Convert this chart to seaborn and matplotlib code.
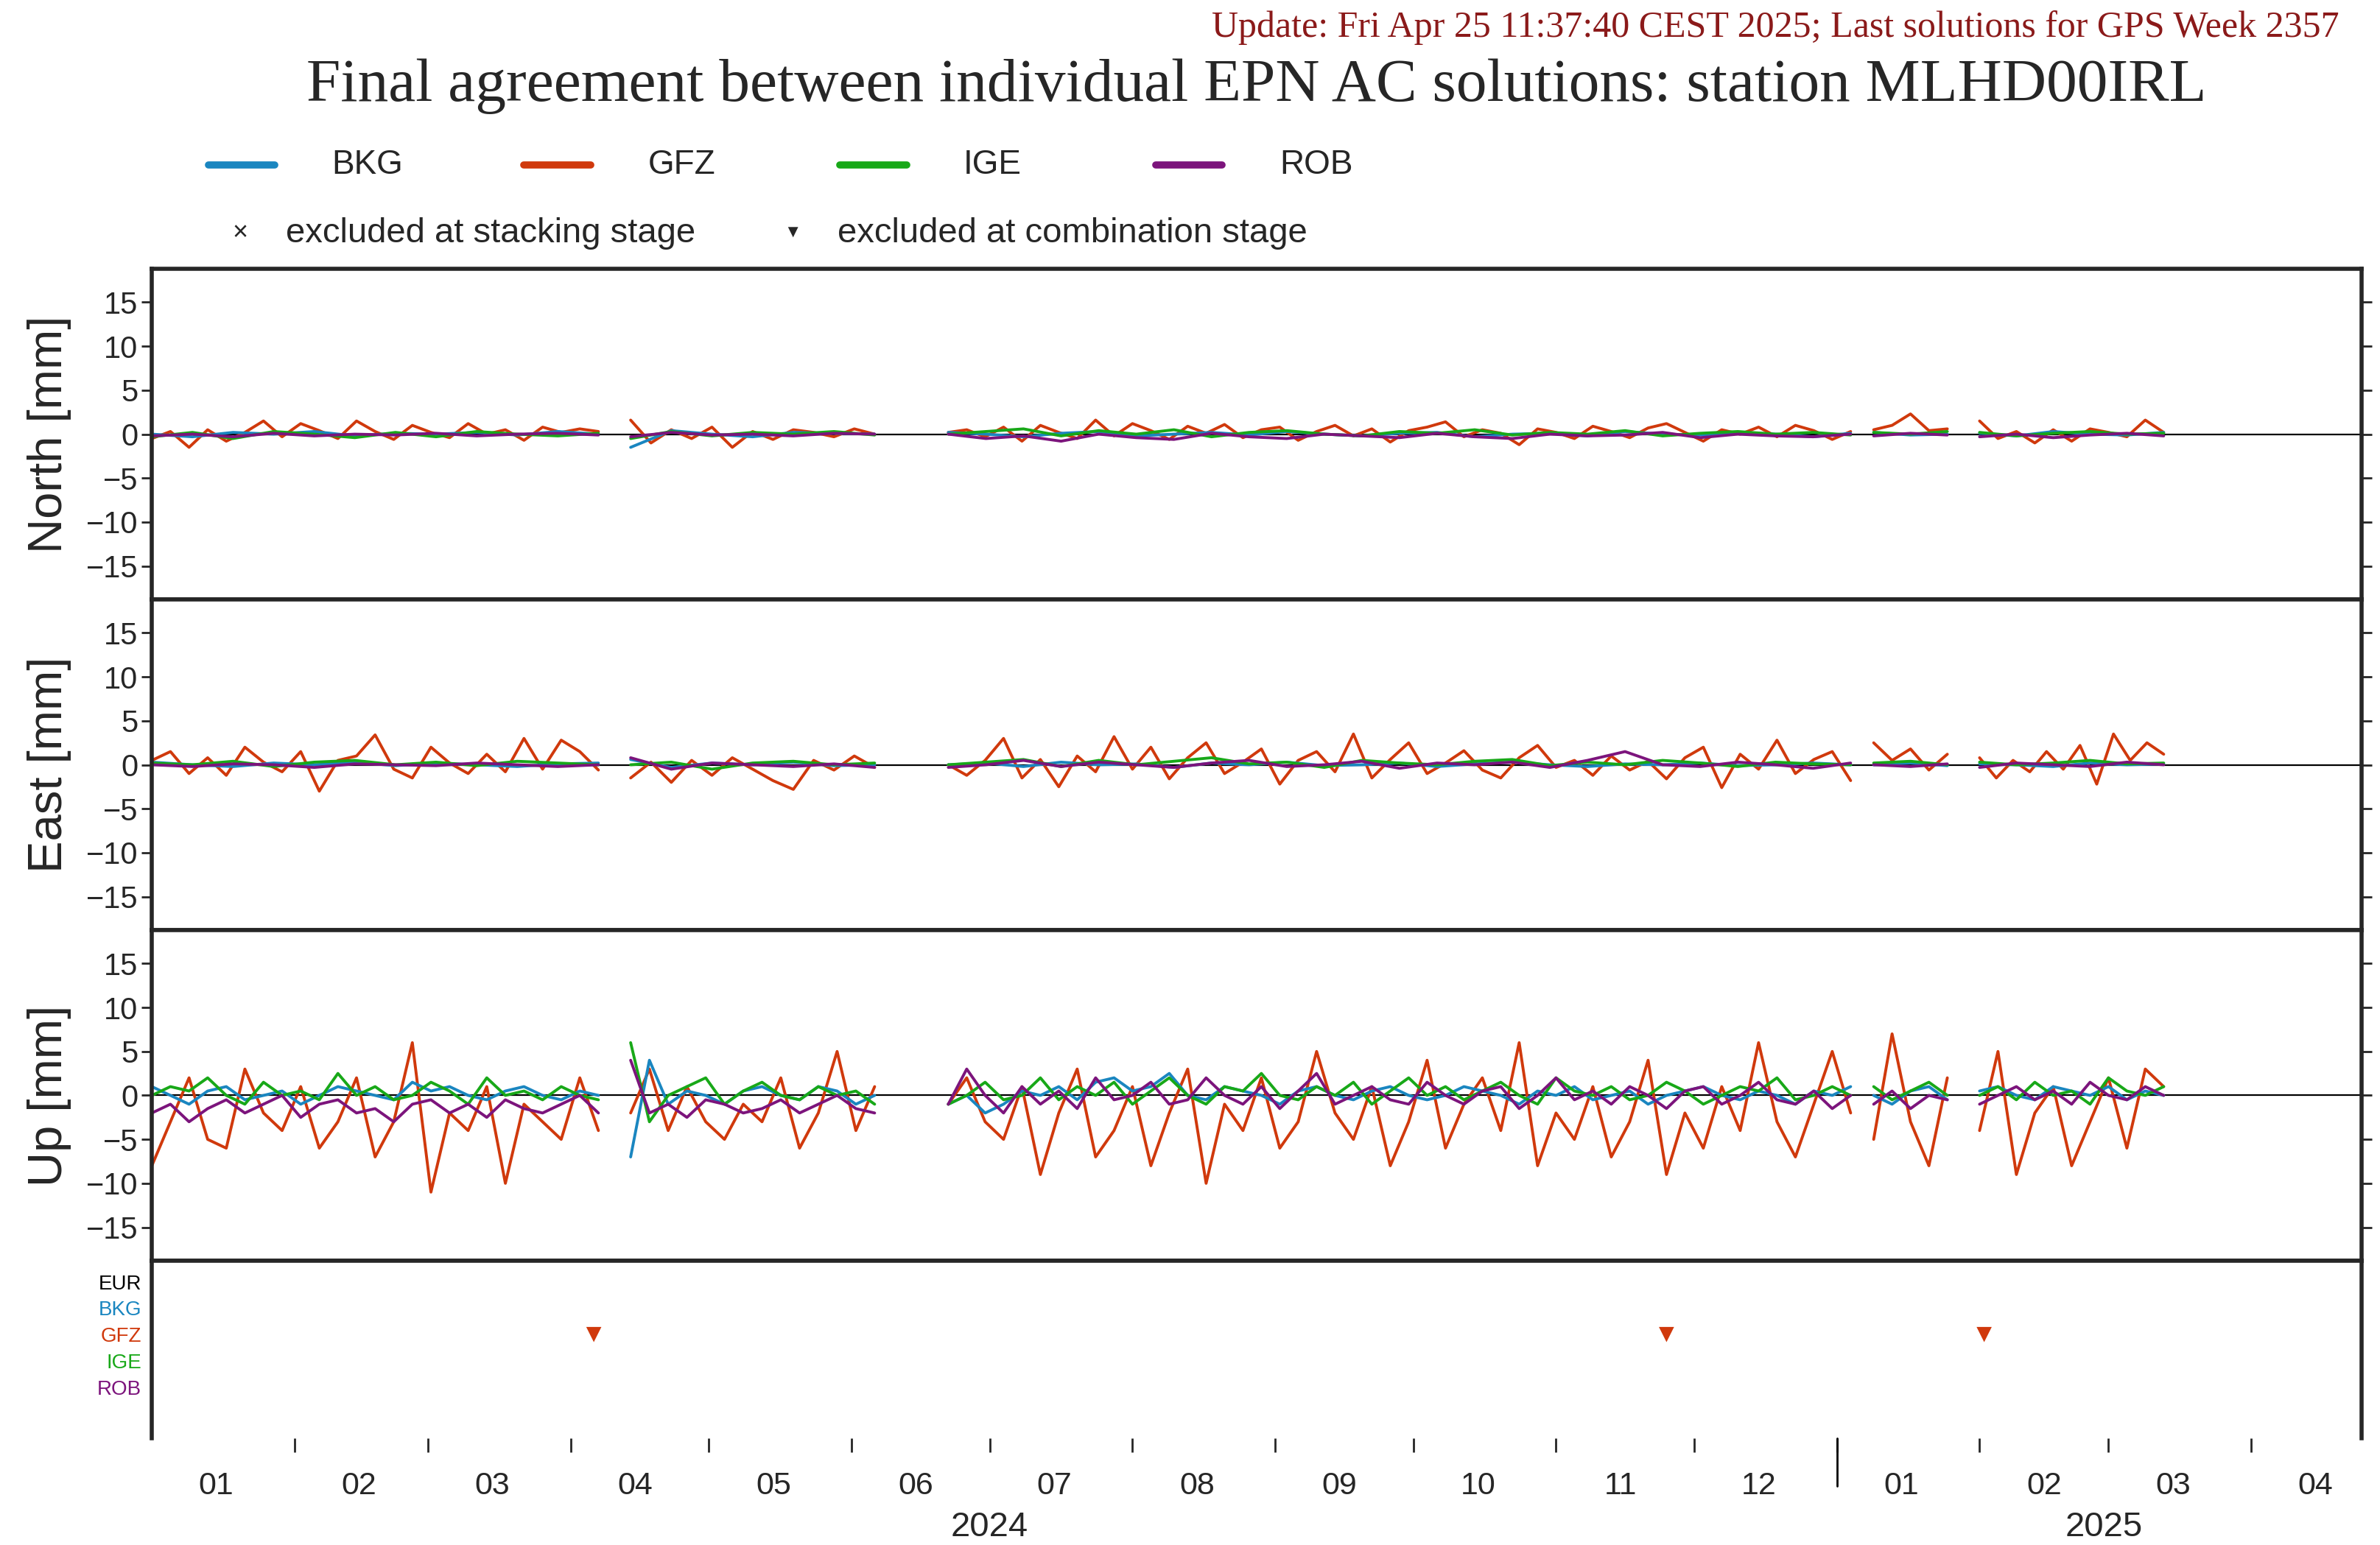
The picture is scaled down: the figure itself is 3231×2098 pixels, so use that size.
import numpy as np
import pandas as pd
import matplotlib
matplotlib.use("Agg")
import matplotlib.pyplot as plt
import matplotlib.dates as mdates
from matplotlib.lines import Line2D
import seaborn as sb

sb.set_style("ticks")
plt.rcParams['font.family'] = ['Liberation Sans', 'DejaVu Sans']

# segment bounds (data gaps between them)
seg_bounds = [("2024-01-01", "2024-04-07"), ("2024-04-14", "2024-06-06"),
              ("2024-06-22", "2025-01-04"), ("2025-01-09", "2025-01-25"),
              ("2025-02-01", "2025-03-13")]

acs = ["BKG", "GFZ", "IGE", "ROB"]
colores = {"BKG": "#1a86c0", "GFZ": "#d0390c", "IGE": "#18a818", "ROB": "#7c147c"}

# ---- North [mm] ----
north_bkg = [[0, -0.3, 0.2, 0, 0.3, -0.2, 0.1, 0, 0.2, -0.1, 0.3, 0],
             [-1.5, 0.4, 0, -0.3, 0.2, 0.1, 0],
             [0.2, 0, -0.3, 0.1, 0.3, -0.2, 0, 0.2, -0.1, 0.3, 0, -0.2, 0.1, 0.2, -0.3, 0, 0.1, -0.2, 0.3, 0, -0.1, 0.2, 0, -0.3, 0.1],
             [0.2, -0.1, 0], [0.1, -0.2, 0.3, 0, -0.1, 0.2]]
north_gfz = [[-0.5, 0.3, -1.5, 0.5, -0.8, 0.2, 1.5, -0.3, 1.2, 0.4, -0.5, 1.5, 0.3, -0.6, 1.0, 0.2, -0.4, 1.2, 0, 0.5, -0.7, 0.8, 0.2, 0.6, 0.3],
             [1.6, -1.0, 0.5, -0.5, 0.8, -1.5, 0.3, -0.6, 0.5, 0.2, -0.3, 0.6, 0],
             [0.2, 0.5, -0.3, 0.8, -0.8, 1.0, 0.2, -0.5, 1.6, -0.2, 1.2, 0.4, -0.6, 0.9, 0.1, 1.1, -0.4, 0.5, 0.8, -0.7, 0.3, 1.0, -0.2, 0.6, -0.9, 0.4, 0.8, 1.4, -0.3, 0.5, 0.1, -1.2, 0.6, 0.2, -0.5, 0.9, 0.3, -0.4, 0.7, 1.2, 0.2, -0.8, 0.5, 0, 0.8, -0.3, 1.0, 0.4, -0.6, 0.3],
             [0.5, 1.0, 2.3, 0.4, 0.6],
             [1.5, -0.5, 0.3, -1.0, 0.5, -0.8, 0.6, 0.2, -0.3, 1.6, 0.2]]
north_ige = [[-0.3, 0.2, -0.5, 0.3, 0, -0.4, 0.2, -0.3, 0.3, 0, -0.2, 0.1],
             [-0.5, 0.3, -0.2, 0.2, 0, 0.3, -0.1],
             [0, 0.3, 0.6, -0.2, 0.4, 0, 0.5, -0.3, 0.2, 0.4, 0, -0.2, 0.3, 0.1, 0.5, -0.1, 0.2, 0, 0.4, -0.2, 0.1, 0.3, 0, 0.2, -0.1],
             [0.2, 0, 0.3], [0.2, -0.2, 0.1, 0.3, 0, 0.1]]
north_rob = [[-0.2, 0, -0.3, 0.1, -0.2, 0, -0.1, 0.1, -0.2, 0, 0.1, -0.1],
             [-0.3, 0.2, -0.1, 0, -0.2, 0.1, 0],
             [0, -0.5, -0.2, -0.8, 0, -0.4, -0.6, 0.1, -0.3, -0.5, 0, -0.2, -0.4, 0.1, -0.3, -0.5, 0, -0.2, -0.1, 0.2, -0.4, 0, -0.2, -0.3, 0],
             [-0.2, 0.1, -0.1], [-0.3, 0, -0.4, -0.1, 0.1, -0.2]]

# ---- East [mm] ----
east_bkg = [[0.3, 0, -0.2, 0.2, 0, 0.3, -0.1, 0.2, 0, -0.2, 0.1, 0.2],
            [0.6, -0.3, 0.2, 0, 0.3, -0.1, 0],
            [0, 0.2, -0.2, 0.3, 0, 0.1, -0.3, 0.2, 0, 0.3, -0.1, 0, 0.2, -0.2, 0.1, 0.3, 0, -0.2, 0.1, 0, 0.2, -0.1, 0, 0.2, 0],
            [0, 0.2, -0.1], [0.1, 0, -0.2, 0.2, 0, 0.1]]
east_gfz = [[0.5, 1.5, -1.0, 0.8, -1.2, 2.0, 0.3, -0.8, 1.5, -3.0, 0.5, 1.0, 3.4, -0.5, -1.5, 2.0, 0.2, -1.0, 1.2, -0.8, 3.0, -0.5, 2.8, 1.5, -0.6],
            [-1.5, 0.3, -2.0, 0.5, -1.2, 0.8, -0.5, -1.8, -2.8, 0.5, -0.6, 1.0, -0.3],
            [0, -1.2, 0.5, 3.0, -1.5, 0.6, -2.5, 1.0, -0.8, 3.2, -0.5, 2.0, -1.6, 0.8, 2.5, -1.0, 0.3, 1.8, -2.2, 0.5, 1.5, -0.8, 3.5, -1.5, 0.6, 2.5, -1.0, 0.2, 1.6, -0.6, -1.5, 0.8, 2.2, -0.3, 0.5, -1.2, 1.0, -0.6, 0.4, -1.6, 0.8, 2.0, -2.6, 1.2, -0.5, 2.8, -1.0, 0.6, 1.5, -1.8],
            [2.5, 0.5, 1.8, -0.6, 1.2],
            [0.8, -1.5, 0.5, -0.8, 1.5, -0.5, 2.2, -2.2, 3.5, 0.5, 2.5, 1.2]]
east_ige = [[0.2, 0, 0.4, -0.2, 0.3, 0.5, 0, 0.3, -0.1, 0.4, 0.2, 0],
            [0, 0.3, -0.5, 0.2, 0.4, 0, 0.2],
            [0, 0.3, 0.6, -0.2, 0.5, 0, 0.4, 0.8, 0.1, 0.3, -0.3, 0.5, 0.2, 0, 0.4, 0.6, -0.1, 0.3, 0, 0.5, 0.2, -0.2, 0.3, 0.1, 0],
            [0.2, 0.4, 0], [0.3, 0, 0.2, 0.5, 0.1, 0.2]]
east_rob = [[0, -0.2, 0.1, 0, -0.3, 0.1, 0, -0.1, 0.2, 0, -0.2, 0],
            [0.8, -0.5, 0.2, 0, -0.2, 0.1, -0.3],
            [-0.3, 0, 0.5, -0.2, 0.3, 0, -0.3, 0.2, 0.5, -0.2, 0, 0.4, -0.4, 0.2, 0, 0.3, -0.3, 0.5, 1.5, 0, -0.2, 0.3, 0, -0.4, 0.2],
            [0, -0.2, 0.1], [-0.3, 0.2, 0, -0.2, 0.3, 0]]

# ---- Up [mm] ----
up_gfz = [[-8, -3, 2, -5, -6, 3, -2, -4, 1, -6, -3, 2, -7, -3, 6, -11, -2, -4, 1, -10, -1, -3, -5, 2, -4],
          [-2, 3, -4, 1, -3, -5, -1, -3, 2, -6, -2, 5, -4, 1],
          [-1, 2, -3, -5, 1, -9, -2, 3, -7, -4, 1, -8, -2, 3, -10, -1, -4, 2, -6, -3, 5, -2, -5, 1, -8, -3, 4, -6, -1, 2, -4, 6, -8, -2, -5, 1, -7, -3, 4, -9, -2, -6, 1, -4, 6, -3, -7, -1, 5, -2],
          [-5, 7, -3, -8, 2],
          [-4, 5, -9, -2, 1, -8, -3, 2, -6, 3, 1]]
up_bkg = [[1, 0, -1, 0.5, 1, -0.5, 0, 0.5, -1, 0, 1, 0.5, 0, -0.5, 1.5, 0.5, 1, 0, -0.5, 0.5, 1, 0, -0.5, 0.5, 0],
          [-7, 4, -1, 0.5, 0, -1, 0.5, 1, 0, -0.5, 1, 0.5, -1, 0],
          [-1, 0, -2, -1, 0.5, 0, 1, -0.5, 1.5, 2, 0.5, 1, 2.5, 0, -0.5, 1, 0.5, 0, -1, 0.5, 1, 0, -0.5, 0.5, 1, 0, -0.5, 0, 1, 0.5, 0, -1, 0.5, 0, 1, -0.5, 0, 0.5, -1, 0, 0.5, 1, 0, -0.5, 0.5, 0, -1, 0.5, 0, 1],
          [0, -1, 0.5, 1, -0.5],
          [0.5, 1, 0, -0.5, 1, 0.5, 0, 1, -0.5, 0.5, 0]]
up_ige = [[0, 1, 0.5, 2, 0, -1, 1.5, 0, 0.5, -0.5, 2.5, 0, 1, -0.5, 0, 1.5, 0.5, -1, 2, 0, 0.5, -0.5, 1, 0, -0.5],
          [6, -3, 0, 1, 2, -1, 0.5, 1.5, 0, -0.5, 1, 0, 0.5, -1],
          [-1, 0, 1.5, -0.5, 0, 2, -0.5, 1, 0, 1.5, -1, 0.5, 2, 0, -1, 1, 0.5, 2.5, 0, -0.5, 1, 0, 1.5, -1, 0.5, 2, 0, 1, -0.5, 0.5, 1.5, 0, -1, 2, 0.5, 0, 1, -0.5, 0, 1.5, 0.5, -1, 0, 1, 0.5, 2, -0.5, 0, 1, 0],
          [1, -0.5, 0.5, 1.5, 0],
          [0, 1, -0.5, 1.5, 0, 0.5, -1, 2, 0.5, 0, 1]]
up_rob = [[-2, -1, -3, -1.5, -0.5, -2, -1, 0, -2.5, -1, -0.5, -2, -1.5, -3, -1, -0.5, -2, -1, -2.5, -0.5, -1.5, -2, -1, 0, -2],
          [4, -2, -1, -2.5, -0.5, -1, -2, -1.5, -0.5, -2, -1, 0, -1.5, -2],
          [-1, 3, 0, -2, 1, -1, 0.5, -1.5, 2, -0.5, 0, 1.5, -1, -0.5, 2, 0, -1, 1, -1.5, 0.5, 2.5, -1, 0, 1, -0.5, -1, 1.5, 0, -1, 0.5, 1, -1.5, 0, 2, -0.5, 0.5, -1, 1, 0, -1.5, 0.5, 1, -1, 0, 1.5, -0.5, -1, 0.5, -1.5, 0],
          [-1, 0.5, -1.5, 0, -0.5],
          [-1, 0, 1, -0.5, 0.5, -1, 1.5, 0, -0.5, 1, 0]]

# excluded at combination stage (GFZ)
excl_comb_fechas = ["2024-04-06", "2024-11-25", "2025-02-02"]
excl_comb_ac = ["GFZ", "GFZ", "GFZ"]
filas = ["EUR", "BKG", "GFZ", "IGE", "ROB"]
colores_filas = ["black", colores["BKG"], colores["GFZ"], colores["IGE"], colores["ROB"]]


def armar_df(series):
    filas_df = []
    for ac, segs in series.items():
        for k, vals in enumerate(segs):
            ini, fin = pd.Timestamp(seg_bounds[k][0]), pd.Timestamp(seg_bounds[k][1])
            fechas = pd.date_range(ini, fin, periods=len(vals))
            for f, v in zip(fechas, vals):
                filas_df.append((f, v, ac, k))
    return pd.DataFrame(filas_df, columns=["fecha", "valor", "ac", "seg"])


componentes = [
    ("North [mm]", {"BKG": north_bkg, "GFZ": north_gfz, "IGE": north_ige, "ROB": north_rob}),
    ("East [mm]", {"BKG": east_bkg, "GFZ": east_gfz, "IGE": east_ige, "ROB": east_rob}),
    ("Up [mm]", {"BKG": up_bkg, "GFZ": up_gfz, "IGE": up_ige, "ROB": up_rob}),
]

fig = plt.figure(figsize=(32.31, 20.98), dpi=100)
L, W = 0.0638, 0.9285
bottoms = [0.612, 0.398, 0.184]
H = 0.214
xmin, xmax = pd.Timestamp("2024-01-01"), pd.Timestamp("2025-04-25")
meses = pd.date_range("2024-02-01", "2025-04-01", freq="MS")

for (nombre, series), b in zip(componentes, bottoms):
    ax = fig.add_axes([L, b, W, H])
    df = armar_df(series)
    orden = ["GFZ", "BKG", "IGE", "ROB"]
    sb.lineplot(data=df, x="fecha", y="valor", hue="ac", units="seg", estimator=None,
                palette=colores, hue_order=orden, linewidth=2.8, ax=ax, legend=False, sort=True)
    ax.axhline(0, color="black", linewidth=1.6, zorder=0)
    ax.set_xlim(xmin, xmax)
    ax.set_ylim(-18.8, 18.8)
    ax.set_yticks([-15, -10, -5, 0, 5, 10, 15])
    ax.set_yticklabels(["\u221215", "\u221210", "\u22125", "0", "5", "10", "15"])
    ax.tick_params(axis="y", labelsize=30, direction="out", length=10, width=2, right=True)
    ax.set_xticks([])
    ax.set_xlabel("")
    ax.set_ylabel(nombre, fontsize=47, labelpad=14)
    for s in ax.spines.values():
        s.set_linewidth(4)

# bottom panel with exclusions
axb = fig.add_axes([L, 0.069, W, 0.115])
df_ex = pd.DataFrame({"fecha": pd.to_datetime(excl_comb_fechas),
                      "fila": [filas.index(a) for a in excl_comb_ac]})
sb.scatterplot(data=df_ex, x="fecha", y="fila", marker="v", color=colores["GFZ"],
               s=220, edgecolor="none", ax=axb)
axb.set_xlim(xmin, xmax)
axb.set_ylim(5.94, -0.8)
axb.set_yticks(range(len(filas)))
axb.set_yticklabels(filas, fontsize=20)
for t, c in zip(axb.get_yticklabels(), colores_filas):
    t.set_color(c)
axb.tick_params(axis="y", length=0, pad=10)
axb.set_ylabel("")
axb.set_xlabel("")
for s in axb.spines.values():
    s.set_linewidth(4)
axb.spines["bottom"].set_visible(False)
axb.set_xticks(meses)
axb.set_xticklabels([])
axb.tick_params(axis="x", which="major", direction="out", length=14, width=2, bottom=True)
medios = pd.date_range("2024-01-01", "2025-04-01", freq="MS") + pd.Timedelta(days=14)
axb.set_xticks(medios, minor=True)
axb.set_xticklabels([d.strftime("%m") for d in medios], minor=True, fontsize=31)
axb.tick_params(axis="x", which="minor", length=0, pad=32)
axb.axvline(pd.Timestamp("2025-01-01"), ymin=-0.27, ymax=0, color="black", linewidth=2, clip_on=False)
axb.text(pd.Timestamp("2024-07-01"), -0.5, "2024", transform=axb.get_xaxis_transform(),
         ha="center", va="center", fontsize=34)
axb.text(pd.Timestamp("2025-02-28"), -0.5, "2025", transform=axb.get_xaxis_transform(),
         ha="center", va="center", fontsize=34)

# title and header
fig.text(0.528, 0.944, "Final agreement between individual EPN AC solutions: station MLHD00IRL",
         ha="center", va="center", fontsize=60, family=["Liberation Serif"])
fig.text(0.983, 0.982, "Update: Fri Apr 25 11:37:40 CEST 2025; Last solutions for GPS Week 2357",
         ha="right", va="center", fontsize=36, color="#8b1a1a", family=["Liberation Serif"])

# legend
for i, ac in enumerate(acs):
    x0 = 0.0875 + i * 0.1327
    fig.add_artist(Line2D([x0, x0 + 0.028], [0.893, 0.893], color=colores[ac], linewidth=7))
    fig.text(x0 + 0.052, 0.893, ac, ha="left", va="center", fontsize=33)
fig.text(0.101, 0.849, "\u00d7", ha="center", va="center", fontsize=26)
fig.text(0.120, 0.849, "excluded at stacking stage", ha="left", va="center", fontsize=34)
fig.text(0.333, 0.849, "\u25bc", ha="center", va="center", fontsize=17)
fig.text(0.352, 0.849, "excluded at combination stage", ha="left", va="center", fontsize=34)

plt.savefig("out.png", dpi=100)
